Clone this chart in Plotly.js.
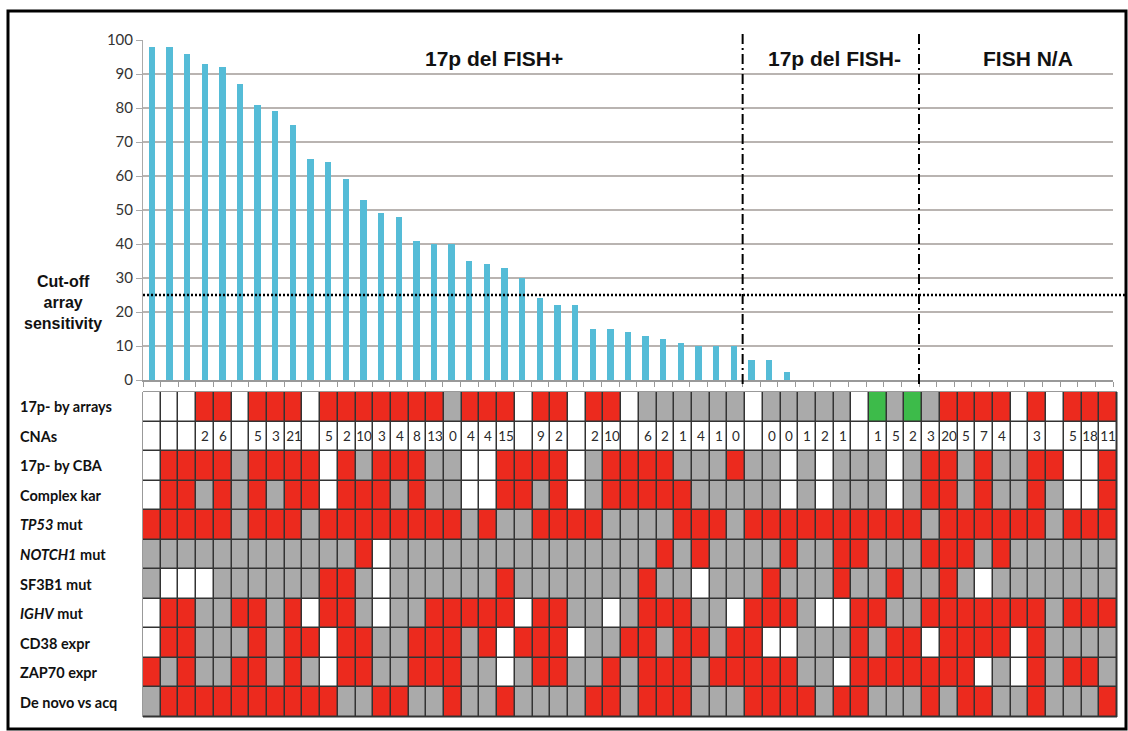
<!DOCTYPE html>
<html><head><meta charset="utf-8">
<script src="https://cdn.plot.ly/plotly-3.0.1.min.js"></script>
<style>html,body{margin:0;padding:0;background:#fff;} #chart{width:1128px;height:731px;}</style>
</head><body><div id="chart"></div>
<script>
// ---- data ----
const arraySensitivity = [98,98,96,93,92,87,81,79,75,65,64,59,53,49,48,41,40,40,35,34,33,30,24,22,22,15,15,14,13,12,11,10,10,10,6,6,2.5,0,0,0,0,0,0,0,0,0,0,0,0,0,0,0,0,0];
const yTicks = [0,10,20,30,40,50,60,70,80,90,100];
const cutoff = 25;
const groupTitles = ['17p del FISH+','17p del FISH-','FISH N/A'];
const groupTitlePos = [19.4, 38.7, 49.7];
const groupBoundaries = [33.5, 43.5];

const rowLabels = ['17p- by arrays','CNAs','17p- by CBA','Complex kar','<i>TP53</i> mut','<i>NOTCH1</i> mut','SF3B1 mut','<i>IGHV</i> mut','CD38 expr','ZAP70 expr','De novo vs acq'];
// W = white (n/a), G = grey (no), R = red (yes), X = green
const row17pArrays = 'WWWRRWRRRWRRR' + 'RRRRGRRRWRRWRRWGGGGGG' + 'WGGGGGWXGXGRRRRWRWRRR';
const rowCNAs      = 'WWWWWWWWWWWWW' + 'WWWWWWWWWWWWWWWWWWWWW' + 'WWWWWWWWWWWWWWWWWWWWW';
const rowCBA       = 'WRRRRGRRRRWRG' + 'RRRGGWWRRRRWGRRRRGGGR' + 'GGWGWGGGWGRRGRGGRRWWR';
const rowComplex   = 'WRRGRGRGRRWRR' + 'RGRGGWWRRGRWGRRRRRGGG' + 'GGWGWGGGWGRRGRGGRGWWR';
const rowTP53      = 'RRRRRGRRRGRRR' + 'RRRRRGRGGRRRRGGGGRRRG' + 'RRRRRRRRRRGRRRRRRGRRR';
const rowNOTCH1    = 'GGGGGGGGGGGGR' + 'WGGGGGGGGGGGGGGGRGRGG' + 'GGRGGRRGGGRRRGRGGGGGG';
const rowSF3B1     = 'GWWWGGGGGGRRG' + 'WGGGGGGRGGGGGGGRGGWGG' + 'GRGGGRGGRGGRGWGGGGGGG';
const rowIGHV      = 'WRRGGRRGRWRRG' + 'WGGRRRRRWRRGGWGRRRGGW' + 'RRRGWWRRGGRRRRRRRGRRR';
const rowCD38      = 'WRRGGGRGRRWRR' + 'GGRRRGRWRRRWGGRRGRRGR' + 'RWWGGGRGRRWRRRRWRGGGG';
const rowZAP70     = 'RGRGGRRGRGWRR' + 'GGRRRGGWGRRGGRGRRRGRR' + 'RRRGGWRRRRRRRWGWRGRRG';
const rowDeNovo    = 'GRRRRRRRRRRGG' + 'RRGGRGGRGGGGRRGRRRGGG' + 'RRRRGRRGGGRGRRGGRGGGR';
const cnaCounts = ['','','',2,6,'',5,3,21,'',5,2,10,3,4,8,13,0,4,4,15,'',9,2,'',2,10,'',6,2,1,4,1,0,'',0,0,1,2,1,'',1,5,2,3,20,5,7,4,'',3,'',5,18,11];

// ---- build ----
const W = 1128, H = 731;
const codeMap = {W:0, G:1, R:2, X:3};
const rows = [row17pArrays,rowCNAs,rowCBA,rowComplex,rowTP53,rowNOTCH1,rowSF3B1,rowIGHV,rowCD38,rowZAP70,rowDeNovo];
const z = rows.map(r => r.split('').map(c => codeMap[c]));
const text = rows.map((r,i) => i === 1 ? cnaCounts.map(v => String(v)) : r.split('').map(() => ''));
const idx = arraySensitivity.map((_, i) => i);
const rowIdx = rowLabels.map((_, i) => i);

const red = '#ec2a1e', grey = '#aaaaaa', green = '#3dbb4a';
const colorscale = [[0,'#ffffff'],[0.1667,'#ffffff'],[0.1667,grey],[0.5,grey],[0.5,red],[0.8333,red],[0.8333,green],[1,green]];

const barDom = [143/W, 1113/W];
const barYDom = [1-380/H, 1-40/H];
const heatDom = [143/W, 1117/W];
const heatYDom = [1-717/H, 1-392/H];

const traces = [
  {type:'bar', x: idx, y: arraySensitivity, xaxis:'x', yaxis:'y', width:0.36,
   marker:{color:'#55bcd7', line:{width:0}}, hoverinfo:'skip'},
  {type:'heatmap', x: idx, y: rowIdx, z: z, text: text, texttemplate:'%{text}',
   textfont:{family:'Lato, sans-serif', size:13.5, color:'#2a2a2a'},
   colorscale: colorscale, zmin:0, zmax:3, showscale:false, xgap:1.5, ygap:1.5,
   xaxis:'x2', yaxis:'y2', hoverinfo:'skip'}
];

const shapes = [
  {type:'rect', xref:'x2 domain', yref:'y2 domain', x0:0, x1:1, y0:0, y1:1,
   fillcolor:'#333', line:{color:'#333', width:1}, layer:'below'},
  {type:'line', xref:'paper', yref:'y', x0:143/W, x1:1127/W, y0:cutoff, y1:cutoff,
   line:{color:'#000', width:2.5, dash:'2px,2px'}},
  {type:'rect', xref:'paper', yref:'paper', x0:8/W, x1:1126/W, y0:1-729/H, y1:1-11/H,
   line:{color:'#000', width:3}, fillcolor:'rgba(0,0,0,0)'}
];
groupBoundaries.forEach(b => shapes.push({type:'line', xref:'x', yref:'paper', x0:b, x1:b,
  y0:1-384/H, y1:1-32/H, line:{color:'#000', width:2, dash:'10px,4px,2px,4px'}}));

const annotations = [];
groupTitles.forEach((t, i) => annotations.push({text:'<b>'+t+'</b>', xref:'x', yref:'y',
  x: groupTitlePos[i], y: 94.7, showarrow:false, xanchor:'center', yanchor:'middle',
  font:{family:'Liberation Sans, Arial, sans-serif', size:21, color:'#111'}}));
annotations.push({text:'<b>Cut-off<br>array<br>sensitivity</b>', xref:'paper', yref:'paper',
  x:63/W, y:1-302/H, showarrow:false, xanchor:'center', yanchor:'middle', align:'center',
  font:{family:'Liberation Sans, Arial, sans-serif', size:16, color:'#111'}});
rowLabels.forEach((t, i) => annotations.push({text:'<b>'+t+'</b>', xref:'paper', yref:'y2',
  x:18/W, y:i, showarrow:false, xanchor:'left', yanchor:'middle',
  font:{family:'Lato, sans-serif', size:14.5, color:'#111'}}));

const layout = {
  width: W, height: H, margin:{l:0, r:0, t:0, b:0},
  paper_bgcolor:'#fff', plot_bgcolor:'#fff', showlegend:false, bargap:0,
  font:{family:'Lato, sans-serif', color:'#222'},
  xaxis:{domain:barDom, range:[-0.5, 54.5], tick0:-0.5, dtick:1, ticks:'outside', ticklen:5,
    tickcolor:'#999', showticklabels:false, showgrid:false, zeroline:false,
    showline:true, linecolor:'#999', linewidth:1.5, fixedrange:true},
  yaxis:{domain:barYDom, range:[0, 100], tickvals:yTicks, ticktext:yTicks.map(String),
    ticks:'outside', ticklen:6, tickcolor:'#aaa', showgrid:true, gridcolor:'#b9b4b1', gridwidth:1.3,
    zeroline:false, showline:true, linecolor:'#aaa', tickfont:{family:'Lato, sans-serif', size:15, color:'#333'},
    fixedrange:true},
  xaxis2:{domain:heatDom, range:[-0.5, 54.5], visible:false, fixedrange:true},
  yaxis2:{domain:heatYDom, range:[10.5, -0.5], visible:false, fixedrange:true},
  shapes: shapes, annotations: annotations
};

Plotly.newPlot('chart', traces, layout, {displayModeBar:false, staticPlot:true});
</script>
</body></html>
